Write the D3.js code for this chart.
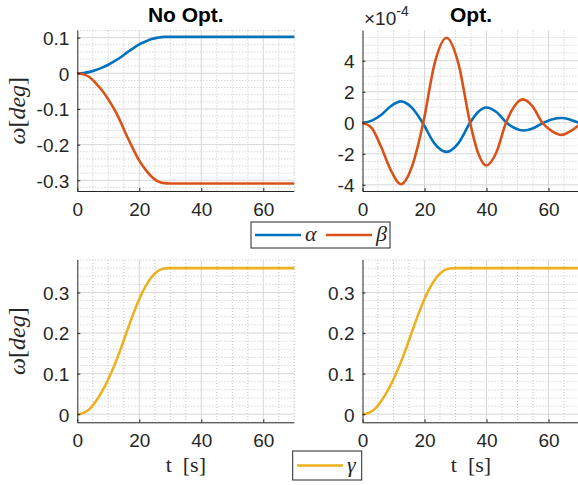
<!DOCTYPE html>
<html>
<head>
<meta charset="utf-8">
<script src="https://cdn.jsdelivr.net/npm/d3@7"></script>
<style>
  html, body { margin: 0; padding: 0; background: #fff; }
  svg { display: block; }
</style>
</head>
<body>
<svg id="fig" width="578" height="485"></svg>
<script>
// Time samples for the non-optimised response (s)
const tSmooth = [0, 2, 4, 6, 8, 10, 12, 14, 16, 18, 20, 22, 24, 26, 28, 30, 35, 40, 45, 50, 55, 60, 65, 70];
// Angular deviation about each axis (deg)
const alphaNoOpt = [0, 0.001, 0.004, 0.009, 0.016, 0.024, 0.034, 0.045, 0.058, 0.070, 0.081, 0.089, 0.096, 0.100, 0.102, 0.102, 0.102, 0.102, 0.102, 0.102, 0.102, 0.102, 0.102, 0.102];
const betaNoOpt = [0, -0.003, -0.011, -0.028, -0.048, -0.073, -0.102, -0.137, -0.176, -0.212, -0.245, -0.270, -0.290, -0.303, -0.308, -0.309, -0.309, -0.309, -0.309, -0.309, -0.309, -0.309, -0.309, -0.309];
const gammaNoOpt = [0, 0.003, 0.013, 0.032, 0.056, 0.086, 0.121, 0.161, 0.204, 0.246, 0.284, 0.315, 0.338, 0.353, 0.359, 0.360, 0.360, 0.360, 0.360, 0.360, 0.360, 0.360, 0.360, 0.360];
const gammaOpt = [0, 0.003, 0.013, 0.032, 0.056, 0.086, 0.121, 0.161, 0.204, 0.246, 0.284, 0.315, 0.338, 0.353, 0.359, 0.360, 0.360, 0.360, 0.360, 0.360, 0.360, 0.360, 0.360, 0.360];

// Optimised response: residual oscillation (units of 1e-4 deg)
const tAlphaOpt = [0, 3, 6, 9, 12.4, 15.9, 19.4, 23.2, 27.1, 30.9, 34.7, 37.3, 39.9, 43.2, 46.5, 49.2, 51.9, 55.1, 58.4, 61.3, 64.3, 67, 70];
const alphaOpt = [0, 0.14, 0.5, 1.05, 1.38, 0.98, 0, -1.33, -1.88, -1.33, 0, 0.69, 0.98, 0.69, 0, -0.35, -0.5, -0.35, 0, 0.23, 0.31, 0.2, -0.02];
const tBetaOpt = [0, 3, 6, 9, 12.4, 16, 19.6, 23.3, 27.1, 30.9, 34.7, 37.3, 39.9, 43.1, 46.3, 49, 51.7, 54.8, 58, 61.2, 64.3, 67, 70];
const betaOpt = [0, -0.35, -1.55, -3.0, -3.96, -2.8, 0, 3.85, 5.48, 3.85, 0, -1.95, -2.76, -1.95, 0, 1.07, 1.51, 1.07, 0, -0.55, -0.78, -0.55, -0.12];

// Axis ticks
const xTicks = [0, 20, 40, 60];
const yTicksTop = [-0.3, -0.2, -0.1, 0, 0.1];
const yTicksOpt = [-4, -2, 0, 2, 4];
const yTicksBottom = [0, 0.1, 0.2, 0.3];

const COLORS = { alpha: "#0072BD", beta: "#D95319", gamma: "#EDB120" };
const AXIS = "#262626";
const SANS = "'Liberation Sans', Arial, sans-serif";
const SERIF = "'Liberation Serif', 'Times New Roman', serif";
const TICK_SIZE = 19;

const svg = d3.select("#fig");

function zip(ts, vs) { return ts.map((t, i) => ({ t, v: vs[i] })); }

function drawPanel(cfg) {
  const x = d3.scaleLinear().domain([0, 70]).range([cfg.left, cfg.right]);
  const y = d3.scaleLinear().domain(cfg.yDomain).range([cfg.bottom, cfg.top]);
  const g = svg.append("g");

  // minor grid (dotted)
  const xMinor = d3.range(5, 70.001, 5).filter(v => !xTicks.includes(v));
  const yMinor = d3.range(Math.ceil(cfg.yDomain[0] / cfg.yMinorStep), Math.floor(cfg.yDomain[1] / cfg.yMinorStep) + 1)
    .map(k => +(k * cfg.yMinorStep).toFixed(6))
    .filter(v => !cfg.yTicks.some(tk => Math.abs(tk - v) < 1e-9));
  g.selectAll(".xminor").data(xMinor).join("line")
    .attr("x1", d => x(d)).attr("x2", d => x(d))
    .attr("y1", cfg.top).attr("y2", cfg.bottom)
    .attr("stroke", "#c4c4c4").attr("stroke-width", 1).attr("stroke-dasharray", "1,2");
  g.selectAll(".yminor").data(yMinor).join("line")
    .attr("x1", cfg.left).attr("x2", cfg.right)
    .attr("y1", d => y(d)).attr("y2", d => y(d))
    .attr("stroke", "#c4c4c4").attr("stroke-width", 1).attr("stroke-dasharray", "1,2");

  // major grid
  g.selectAll(".xmajor").data(xTicks.filter(v => v > 0)).join("line")
    .attr("x1", d => x(d)).attr("x2", d => x(d))
    .attr("y1", cfg.top).attr("y2", cfg.bottom)
    .attr("stroke", "#d8d8d8").attr("stroke-width", 1);
  g.selectAll(".ymajor").data(cfg.yTicks).join("line")
    .attr("x1", cfg.left).attr("x2", cfg.right)
    .attr("y1", d => y(d)).attr("y2", d => y(d))
    .attr("stroke", "#d8d8d8").attr("stroke-width", 1);

  // data lines
  const line = d3.line().x(d => x(d.t)).y(d => y(d.v)).curve(d3.curveMonotoneX);
  cfg.series.forEach(s => {
    g.append("path").datum(zip(s.t, s.v))
      .attr("d", line).attr("fill", "none")
      .attr("stroke", s.color).attr("stroke-width", 2.6)
      .attr("stroke-linejoin", "round").attr("stroke-linecap", "butt");
  });

  // axes (left and bottom only), inward ticks
  const yAxis = d3.axisLeft(y).tickValues(cfg.yTicks).tickSize(-3).tickPadding(8)
    .tickFormat(cfg.yFormat);
  const xAxis = d3.axisBottom(x).tickValues(xTicks).tickSize(-3).tickPadding(8)
    .tickFormat(d3.format("d"));
  const ya = g.append("g").attr("transform", `translate(${cfg.left},0)`).call(yAxis);
  const xa = g.append("g").attr("transform", `translate(0,${cfg.bottom})`).call(xAxis);
  [ya, xa].forEach(a => {
    a.attr("font-size", null).attr("font-family", null);
    a.select(".domain").attr("stroke", AXIS).attr("stroke-width", 1)
      .attr("d", a === ya ? `M0.5,${cfg.top}V${cfg.bottom}` : `M${cfg.left},0.5H${cfg.right}`);
    a.selectAll(".tick line").attr("stroke", AXIS);
    a.selectAll(".tick text").attr("fill", AXIS)
      .style("font-family", SANS).style("font-size", TICK_SIZE + "px");
  });
  ya.selectAll(".tick text").attr("dy", "0.36em");
  xa.selectAll(".tick text").attr("dy", "0.9em");
  return { x, y, g };
}

const fmtDec = d => d === 0 ? "0" : d3.format(".1f")(d).replace("−", "-");
const fmtInt = d => d3.format("d")(d).replace("−", "-");

const L = { left: 77.3, right: 294.3 };
const R = { left: 362.5, right: 579.5 };
const TOPROW = { top: 30.5, bottom: 191 };
const BOTROW = { top: 260, bottom: 422.3 };

drawPanel({ ...L, ...TOPROW, yDomain: [-0.33, 0.12], yTicks: yTicksTop, yMinorStep: 0.02, yFormat: fmtDec,
  series: [{ t: tSmooth, v: alphaNoOpt, color: COLORS.alpha }, { t: tSmooth, v: betaNoOpt, color: COLORS.beta }] });
drawPanel({ ...R, ...TOPROW, yDomain: [-4.4, 5.95], yTicks: yTicksOpt, yMinorStep: 0.5, yFormat: fmtInt,
  series: [{ t: tAlphaOpt, v: alphaOpt, color: COLORS.alpha }, { t: tBetaOpt, v: betaOpt, color: COLORS.beta }] });
drawPanel({ ...L, ...BOTROW, yDomain: [-0.02, 0.38], yTicks: yTicksBottom, yMinorStep: 0.02, yFormat: fmtDec,
  series: [{ t: tSmooth, v: gammaNoOpt, color: COLORS.gamma }] });
drawPanel({ ...R, ...BOTROW, yDomain: [-0.02, 0.38], yTicks: yTicksBottom, yMinorStep: 0.02, yFormat: fmtDec,
  series: [{ t: tSmooth, v: gammaOpt, color: COLORS.gamma }] });

// titles
[[L, "No Opt."], [R, "Opt."]].forEach(([p, label]) => {
  svg.append("text").attr("x", (p.left + p.right) / 2).attr("y", 22)
    .attr("text-anchor", "middle").attr("fill", "#000")
    .style("font-family", SANS).style("font-size", "21px").style("font-weight", "bold")
    .text(label);
});

// exponent multiplier of the Opt. y axis
const mult = svg.append("text").attr("x", 364).attr("y", 25).attr("fill", AXIS)
  .style("font-family", SANS).style("font-size", "19px");
mult.append("tspan").text("×10");
mult.append("tspan").attr("dy", -9).style("font-size", "14px").text("-4");

// y-axis labels
function yLabel(cx, cy) {
  const t = svg.append("text").attr("fill", AXIS).attr("text-anchor", "middle")
    .style("font-family", SERIF).style("font-size", "24px")
    .attr("transform", `translate(${cx},${cy}) rotate(-90)`);
  t.append("tspan").attr("font-style", "italic").text("ω");
  t.append("tspan").text("[");
  t.append("tspan").attr("font-style", "italic").text("deg");
  t.append("tspan").text("]");
}
yLabel(24.5, (TOPROW.top + TOPROW.bottom) / 2);
yLabel(24.5, (BOTROW.top + BOTROW.bottom) / 2);

// x-axis labels
[L, R].forEach(p => {
  svg.append("text").attr("fill", AXIS)
    .style("font-family", SERIF).style("font-size", "22px")
    .attr("x", (p.left + p.right) / 2).attr("y", 472).attr("text-anchor", "middle")
    .attr("xml:space", "preserve").text("t  [s]");
});

// legends
function legend(box, items) {
  const g = svg.append("g");
  g.append("rect").attr("x", box.x).attr("y", box.y).attr("width", box.w).attr("height", box.h)
    .attr("fill", "#fff").attr("stroke", AXIS).attr("stroke-width", 1);
  items.forEach(it => {
    g.append("line").attr("x1", it.x).attr("x2", it.x + 46)
      .attr("y1", box.y + box.h / 2).attr("y2", box.y + box.h / 2)
      .attr("stroke", it.color).attr("stroke-width", 2.6);
    g.append("text").attr("fill", AXIS)
      .style("font-family", SERIF).style("font-size", "22px").style("font-style", "italic")
      .attr("x", it.x + 50).attr("y", box.y + box.h / 2 + 6).text(it.label);
  });
}
legend({ x: 251, y: 222, w: 139, h: 26 }, [
  { x: 255, color: COLORS.alpha, label: "α" },
  { x: 326, color: COLORS.beta, label: "β" }
]);
legend({ x: 292.7, y: 451, w: 69, h: 29 }, [
  { x: 297, color: COLORS.gamma, label: "γ" }
]);
</script>
</body>
</html>
